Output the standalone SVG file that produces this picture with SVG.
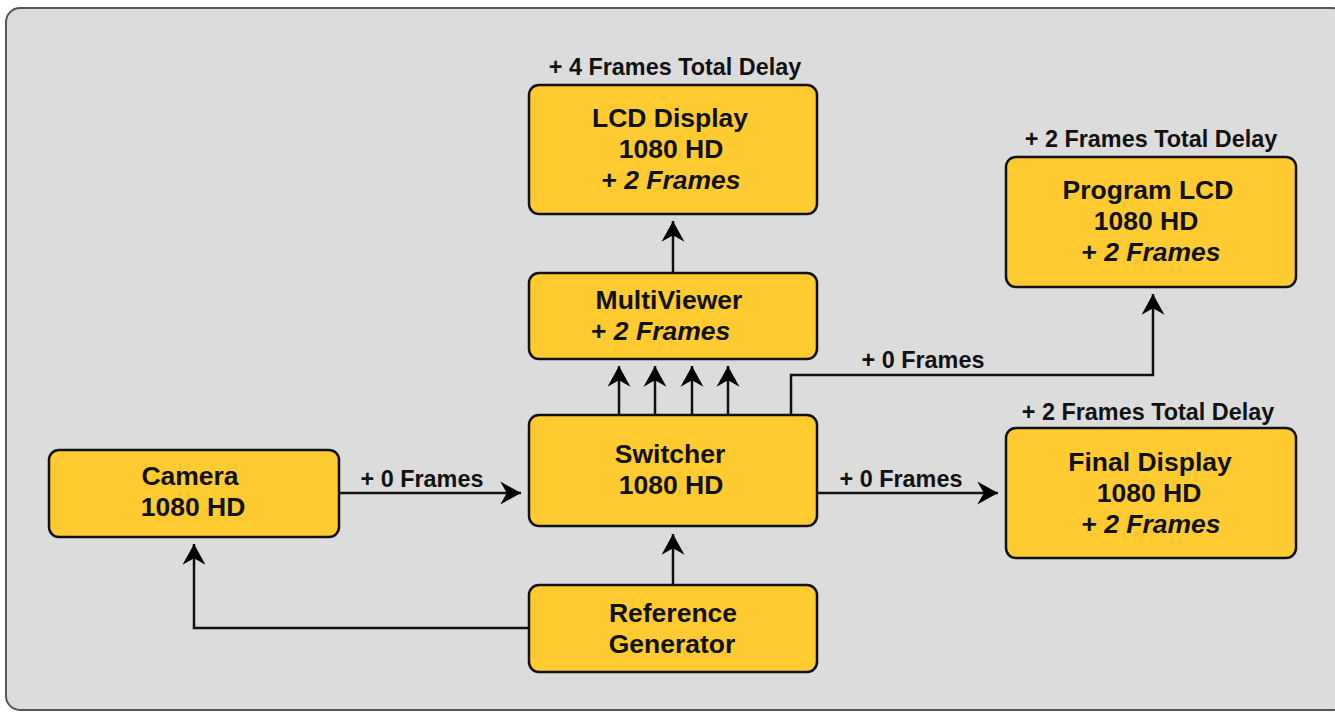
<svg xmlns="http://www.w3.org/2000/svg" width="1335" height="713" viewBox="0 0 1335 713">
<defs>
<marker id="ah" markerUnits="userSpaceOnUse" markerWidth="24" markerHeight="24" viewBox="-20 -11 21 22" refX="0" refY="0" orient="auto">
<path d="M0,0 L-19,-10.5 L-13,0 L-19,10.5 Z" fill="#000"/>
</marker>
</defs>
<style>
.box{fill:#FFCB30;stroke:#111;stroke-width:2.5}
.t{font-family:"Liberation Sans",Arial,sans-serif;font-weight:bold;font-size:26.5px;fill:#111;text-anchor:middle}
.lbl{font-family:"Liberation Sans",Arial,sans-serif;font-weight:bold;font-size:23.4px;fill:#111;text-anchor:middle}
.i{font-style:italic}
.c{fill:none;stroke:#111;stroke-width:2.5}
</style>
<rect x="6" y="8" width="1340" height="702" rx="14" fill="#DCDCDC" stroke="#555" stroke-width="2"/>
<g id="connectors">
<path class="c" d="M339,493 H521" marker-end="url(#ah)"/>
<path class="c" d="M817,493 H998" marker-end="url(#ah)"/>
<path class="c" d="M619,415 V366" marker-end="url(#ah)"/>
<path class="c" d="M655,415 V366" marker-end="url(#ah)"/>
<path class="c" d="M692,415 V366" marker-end="url(#ah)"/>
<path class="c" d="M728,415 V366" marker-end="url(#ah)"/>
<path class="c" d="M673,273 V221" marker-end="url(#ah)"/>
<path class="c" d="M791,415 V375 H1153 V294" marker-end="url(#ah)"/>
<path class="c" d="M673,585 V534" marker-end="url(#ah)"/>
<path class="c" d="M529,628 H194 V544" marker-end="url(#ah)"/>
<text class="lbl" x="422" y="487">+ 0 Frames</text>
<text class="lbl" x="901" y="487">+ 0 Frames</text>
<text class="lbl" x="923" y="368">+ 0 Frames</text>
</g>
<g id="lcd-display">
<text class="lbl" x="675" y="75">+ 4 Frames Total Delay</text>
<rect class="box" x="529" y="85" width="288" height="129" rx="10"/>
<text class="t"><tspan x="670" y="127">LCD Display</tspan><tspan x="671" y="158">1080 HD</tspan><tspan x="671" y="189">+ <tspan class="i">2 Frames</tspan></tspan></text>
</g>
<g id="multiviewer">
<rect class="box" x="529" y="273" width="288" height="86" rx="10"/>
<text class="t"><tspan x="669" y="309">MultiViewer</tspan><tspan x="591" y="340" style="text-anchor:start">+ <tspan class="i">2 Frames</tspan></tspan></text>
</g>
<g id="switcher">
<rect class="box" x="529" y="415" width="288" height="111" rx="10"/>
<text class="t"><tspan x="670" y="463">Switcher</tspan><tspan x="671" y="494">1080 HD</tspan></text>
</g>
<g id="camera">
<rect class="box" x="49" y="450" width="290" height="87" rx="10"/>
<text class="t"><tspan x="190" y="485">Camera</tspan><tspan x="193" y="516">1080 HD</tspan></text>
</g>
<g id="reference-generator">
<rect class="box" x="529" y="585" width="288" height="87" rx="10"/>
<text class="t"><tspan x="673" y="622">Reference</tspan><tspan x="672" y="653">Generator</tspan></text>
</g>
<g id="program-lcd">
<text class="lbl" x="1151" y="147">+ 2 Frames Total Delay</text>
<rect class="box" x="1006" y="157" width="290" height="130" rx="10"/>
<text class="t"><tspan x="1148" y="199">Program LCD</tspan><tspan x="1146" y="230">1080 HD</tspan><tspan x="1151" y="261">+ <tspan class="i">2 Frames</tspan></tspan></text>
</g>
<g id="final-display">
<text class="lbl" x="1148" y="420">+ 2 Frames Total Delay</text>
<rect class="box" x="1006" y="428" width="290" height="130" rx="10"/>
<text class="t"><tspan x="1150" y="471">Final Display</tspan><tspan x="1149" y="502">1080 HD</tspan><tspan x="1151" y="533">+ <tspan class="i">2 Frames</tspan></tspan></text>
</g>
</svg>
